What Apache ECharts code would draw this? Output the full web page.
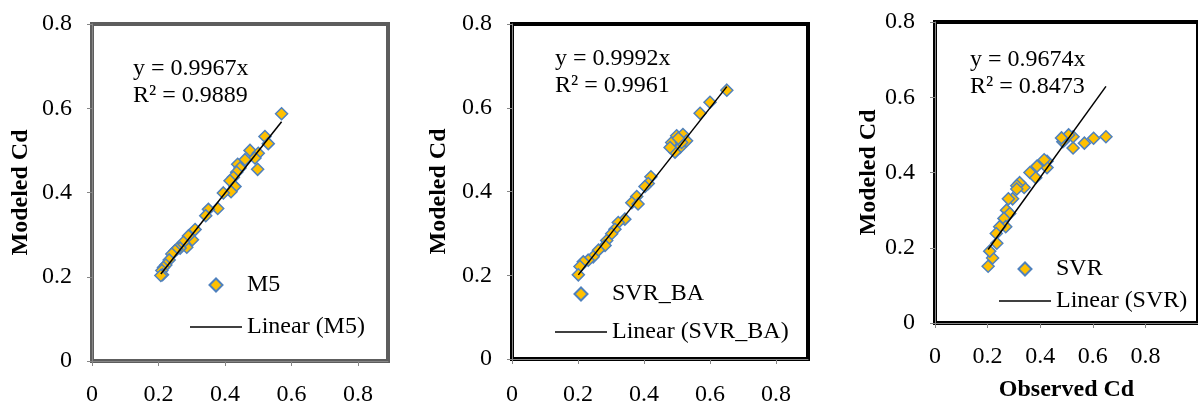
<!DOCTYPE html>
<html>
<head>
<meta charset="utf-8">
<style>
  html, body { margin: 0; padding: 0; background: #fff; }
  #cd-chart { width: 1198px; height: 407px; }
</style>
<script src="https://cdn.jsdelivr.net/npm/echarts@6/dist/echarts.min.js"></script>
</head>
<body>
<div id="cd-chart"></div>
<script>
// observed / modeled Cd
const m5Observed = [0.570, 0.520, 0.530, 0.475, 0.500, 0.490, 0.498, 0.460, 0.438, 0.445, 0.435, 0.425, 0.415, 0.430, 0.418, 0.395, 0.378, 0.350, 0.342, 0.310, 0.302, 0.290, 0.285, 0.275, 0.265, 0.255, 0.250, 0.240, 0.232, 0.222, 0.215, 0.210, 0.212, 0.207];
const m5Modeled = [0.587, 0.533, 0.516, 0.500, 0.493, 0.482, 0.455, 0.478, 0.467, 0.458, 0.448, 0.436, 0.428, 0.414, 0.402, 0.399, 0.362, 0.360, 0.345, 0.312, 0.288, 0.297, 0.270, 0.282, 0.268, 0.266, 0.262, 0.254, 0.240, 0.228, 0.222, 0.215, 0.205, 0.203];

const svrBaObserved = [0.651, 0.600, 0.570, 0.484, 0.499, 0.518, 0.529, 0.509, 0.494, 0.479, 0.514, 0.504, 0.421, 0.413, 0.403, 0.378, 0.363, 0.382, 0.342, 0.322, 0.312, 0.302, 0.287, 0.282, 0.262, 0.246, 0.231, 0.216, 0.206, 0.201];
const svrBaModeled = [0.642, 0.613, 0.587, 0.517, 0.533, 0.536, 0.521, 0.505, 0.494, 0.505, 0.517, 0.527, 0.435, 0.419, 0.412, 0.388, 0.373, 0.370, 0.334, 0.326, 0.310, 0.299, 0.283, 0.271, 0.260, 0.244, 0.236, 0.232, 0.221, 0.201];

const svrObserved = [0.650, 0.603, 0.568, 0.525, 0.525, 0.492, 0.486, 0.508, 0.481, 0.426, 0.426, 0.415, 0.388, 0.361, 0.383, 0.339, 0.322, 0.311, 0.311, 0.295, 0.279, 0.272, 0.284, 0.262, 0.269, 0.246, 0.233, 0.235, 0.219, 0.208, 0.202];
const svrModeled = [0.495, 0.491, 0.478, 0.465, 0.495, 0.486, 0.482, 0.500, 0.492, 0.430, 0.413, 0.434, 0.417, 0.400, 0.386, 0.360, 0.373, 0.365, 0.356, 0.330, 0.330, 0.300, 0.291, 0.278, 0.256, 0.256, 0.238, 0.212, 0.173, 0.191, 0.151];

const modelNames = ["M5", "SVR_BA", "SVR"];
const slopes = [0.9967, 0.9992, 0.9674];
const rSquared = ["0.9889", "0.9961", "0.8473"];
const axisTicks = [0, 0.2, 0.4, 0.6, 0.8];

(function () {
  let chartDom = document.getElementById("cd-chart");
  let myChart = echarts.init(chartDom);
  let option;

  const font = "Liberation Serif";
  const observed = [m5Observed, svrBaObserved, svrObserved];
  const modeled = [m5Modeled, svrBaModeled, svrModeled];

  // layout of each excel panel (pixels); legend = [left, top, itemGap]
  const panels = [
    { left: 92, top: 24, width: 296, height: 346, xMax: 0.89, border: "#5d5d5d", yGap: 59, xMargin: 22, eq: [133, 55], legend: [185, 268, 18] },
    { left: 512, top: 24, width: 296, height: 342, xMax: 0.897, border: "#000", yGap: 61, xMargin: 24, eq: [555, 45], legend: [550, 277, 14] },
    { left: 935, top: 22, width: 305, height: 306, xMax: 1, border: "#000", yGap: 47, xMargin: 22, eq: [970, 46], legend: [994, 252, 8] },
  ];

  let grids = [], xAxes = [], yAxes = [], series = [], legends = [], titles = [];

  panels.forEach(function (p, i) {
    grids.push({
      left: p.left,
      top: p.top,
      width: p.width,
      height: p.height,
      show: true,
      borderColor: p.border,
      borderWidth: 4,
      backgroundColor: "transparent",
    });
    xAxes.push({
      gridIndex: i,
      type: "value",
      min: 0,
      max: p.xMax,
      interval: 0.2,
      name: i === 2 ? "Observed Cd" : "",
      nameLocation: "middle",
      nameGap: 55,
      nameTextStyle: { fontFamily: font, fontSize: 24, fontWeight: "bold", color: "#000" },
      axisLine: { show: true, lineStyle: { color: "#868686", width: 1 } },
      axisTick: { show: true, length: 5, customValues: axisTicks, lineStyle: { color: "#868686" } },
      axisLabel: { customValues: axisTicks, margin: p.xMargin, fontFamily: font, fontSize: 24, color: "#000" },
      splitLine: { show: false },
    });
    yAxes.push({
      gridIndex: i,
      type: "value",
      min: 0,
      max: 0.8,
      interval: 0.2,
      name: "Modeled Cd",
      nameLocation: "middle",
      nameRotate: 90,
      nameGap: p.yGap,
      nameTextStyle: { fontFamily: font, fontSize: 24, fontWeight: "bold", color: "#000" },
      axisLine: { show: true, lineStyle: { color: "#868686", width: 1 } },
      axisTick: { show: true, length: 5, lineStyle: { color: "#868686" } },
      axisLabel: { margin: 20, fontFamily: font, fontSize: 24, color: "#000" },
      splitLine: { show: false },
    });

    let pts = observed[i].map(function (x, k) {
      return [x, modeled[i][k]];
    });
    let xLo = Math.min.apply(null, observed[i]);
    let xHi = Math.max.apply(null, observed[i]);
    let trendName = "Linear (" + modelNames[i] + ")";

    series.push({
      name: modelNames[i],
      type: "scatter",
      xAxisIndex: i,
      yAxisIndex: i,
      symbol: "diamond",
      symbolSize: 12,
      itemStyle: { color: "#FFC000", borderColor: "#4F81BD", borderWidth: 1.5, opacity: 1 },
      data: pts,
    });
    series.push({
      name: trendName,
      type: "line",
      xAxisIndex: i,
      yAxisIndex: i,
      symbol: "none",
      lineStyle: { color: "#000", width: 1.5 },
      itemStyle: { color: "#000" },
      data: [
        [xLo, slopes[i] * xLo],
        [xHi, slopes[i] * xHi],
      ],
    });

    legends.push({
      data: [
        { name: modelNames[i], icon: "path://M0,6L6,0L12,6L6,12Z" },
        { name: trendName, icon: "path://M0,0H52V1.5H0Z" },
      ],
      orient: "vertical",
      left: p.legend[0],
      top: p.legend[1],
      itemGap: p.legend[2],
      itemWidth: 52,
      itemHeight: 13,
      symbolKeepAspect: true,
      selectedMode: false,
      textStyle: { fontFamily: font, fontSize: 24, color: "#000" },
    });

    titles.push({
      text: "y = " + slopes[i] + "x\nR² = " + rSquared[i],
      left: p.eq[0],
      top: p.eq[1],
      padding: 0,
      textStyle: { fontFamily: font, fontSize: 24, fontWeight: "normal", color: "#000", lineHeight: 27 },
    });
  });

  option = {
    animation: false,
    backgroundColor: "#fff",
    title: titles,
    grid: grids,
    xAxis: xAxes,
    yAxis: yAxes,
    legend: legends,
    series: series,
  };
  option && myChart.setOption(option);
})();
</script>
</body>
</html>
